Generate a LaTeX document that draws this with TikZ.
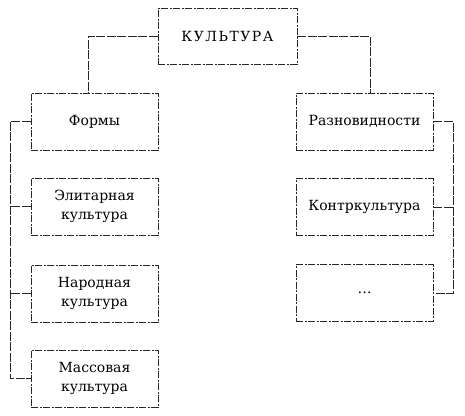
\documentclass[tikz,border=0pt]{standalone}
\usepackage{fontspec}
\setmainfont{DejaVu Serif}
\begin{document}
\begin{tikzpicture}[x=1pt,y=-1pt,
  box/.style={draw=black!85, dash pattern=on 7pt off 1.5pt on 2pt off 1.5pt, line width=0.8pt,
    minimum width=127pt, minimum height=57pt, inner sep=0pt, align=center,
    font=\fontsize{14}{18.5}\selectfont},
  conn/.style={draw=black!85, dash pattern=on 9pt off 1.5pt, line width=0.8pt}]
\useasboundingbox (0,0) rectangle (465,415);
\node[box, minimum width=139pt, minimum height=56pt] (k) at (227.5,36) {К\hspace{1.5pt}У\hspace{1.5pt}Л\hspace{1.5pt}Ь\hspace{1.5pt}Т\hspace{1.5pt}У\hspace{1.5pt}Р\hspace{1.5pt}А};
\node[box] (f) at (94.5,121.5) {Формы};
\node[box] (e) at (94.5,206.5) {Элитарная\\культура};
\node[box] (n) at (94.5,293.5) {Народная\\культура};
\node[box] (m) at (94.5,378.5) {Массовая\\культура};
\node[box, minimum width=137pt] (r) at (364.5,121.5) {Разновидности};
\node[box, minimum width=137pt] (c) at (364.5,207) {Контркультура};
\node[box, minimum width=137pt] (d) at (364.5,293) {\dots};
\coordinate (lt) at (88,36);
\coordinate (rt) at (370,36);
\coordinate (lb1) at (10,121.5);
\coordinate (lb2) at (10,378.5);
\coordinate (rb1) at (453,121.5);
\coordinate (rb2) at (453,293);
\draw[conn] (k.west) -- (lt) -- (lt |- f.north);
\draw[conn] (k.east) -- (rt) -- (rt |- r.north);
\draw[conn] (f.west) -- (lb1) -- (lb2) -- (m.west);
\draw[conn] (e.west) -- (e.west -| lb1);
\draw[conn] (n.west) -- (n.west -| lb1);
\draw[conn] (r.east) -- (rb1) -- (rb2) -- (d.east);
\draw[conn] (c.east) -- (c.east -| rb1);
\end{tikzpicture}
\end{document}
